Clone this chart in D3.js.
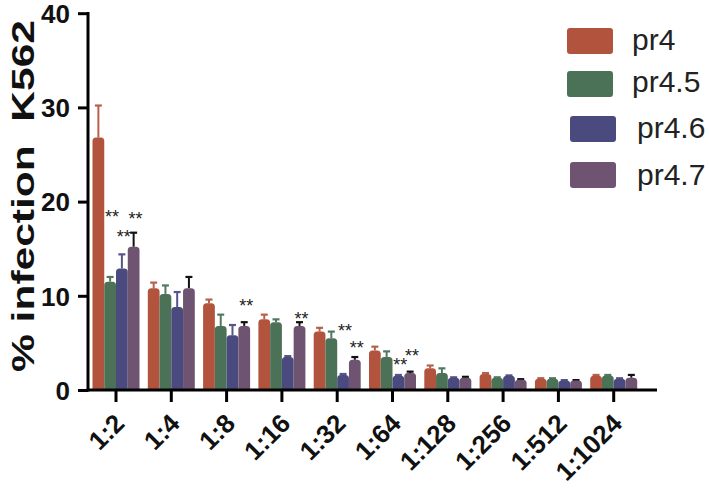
<!DOCTYPE html>
<html><head><meta charset="utf-8">
<script src="https://cdn.jsdelivr.net/npm/d3@7"></script>
<style>body{margin:0;background:#fff}svg{display:block}text{font-family:"Liberation Sans",Arial,sans-serif}</style>
</head><body><svg id="c" width="709" height="491"></svg>
<script>
const categories = ["1:2","1:4","1:8","1:16","1:32","1:64","1:128","1:256","1:512","1:1024"];
const seriesNames = ["pr4","pr4.5","pr4.6","pr4.7"];
const pr4   = [26.8,10.8,9.2,7.5,6.2,4.2,2.3,1.7,1.2,1.5];
const pr4_5 = [11.5,10.2,6.8,7.2,5.5,3.5,1.8,1.3,1.2,1.55];
const pr4_6 = [12.9,8.8,5.8,3.5,1.6,1.5,1.3,1.5,1.0,1.2];
const pr4_7 = [15.2,10.8,6.8,6.8,3.2,1.8,1.3,1.1,1.0,1.3];
const err4   = [30.2,11.4,9.6,8.0,6.6,4.6,2.6,1.8,1.25,1.6];
const err4_5 = [12.0,11.1,8.0,7.5,6.2,4.1,2.3,1.35,1.25,1.6];
const err4_6 = [14.4,10.4,6.9,3.6,1.7,1.6,1.35,1.55,1.05,1.25];
const err4_7 = [16.7,12.0,7.2,7.2,3.5,1.95,1.4,1.15,1.05,1.6];
const yTicks = [0,10,20,30,40];
const sigCat = ["1:2","1:2","1:2","1:8","1:16","1:32","1:32","1:64","1:64"];
const sigSeries = ["pr4.5","pr4.6","pr4.7","pr4.7","pr4.7","pr4.6","pr4.7","pr4.6","pr4.7"];
const sigValue = [18.8,16.7,18.6,9.3,7.9,6.7,4.9,3.1,4.0];

const values = [pr4,pr4_5,pr4_6,pr4_7];
const errs = [err4,err4_5,err4_6,err4_7];
const fills = ["#B2533D","#4B7157","#4A4A7E","#6E5470"];
const errCol = ["#B8604A","#4F7A5E","#55558C","#111111"];

const svg = d3.select("#c");
const x = d3.scaleBand().domain(categories).range([88.35,641.35]).paddingInner(0.15).paddingOuter(0.075);
const xs = d3.scaleBand().domain(seriesNames).range([0,x.bandwidth()]);
const y = d3.scaleLinear().domain([0,40]).range([390,13.2]);

const rows = [];
categories.forEach((c,i)=>seriesNames.forEach((s,j)=>rows.push({c,s,j,v:values[j][i],e:errs[j][i]})));

function topRounded(x0,y0,w,h,r){
  r=Math.min(r,h,w/2);
  return `M${x0},${y0+h}V${y0+r}Q${x0},${y0} ${x0+r},${y0}H${x0+w-r}Q${x0+w},${y0} ${x0+w},${y0+r}V${y0+h}Z`;
}
const g = svg.append("g");
rows.forEach(d=>{
  const cx = x(d.c)+xs(d.s)+xs.bandwidth()/2;
  if (d.e>d.v){
    g.append("line").attr("x1",cx).attr("x2",cx).attr("y1",y(d.v)).attr("y2",y(d.e)).attr("stroke",errCol[d.j]).attr("stroke-width",2);
    g.append("line").attr("x1",cx-3.5).attr("x2",cx+3.5).attr("y1",y(d.e)).attr("y2",y(d.e)).attr("stroke",errCol[d.j]).attr("stroke-width",2.2);
  }
});
g.selectAll("path.bar").data(rows).join("path").attr("class","bar")
  .attr("d",d=>topRounded(x(d.c)+xs(d.s),y(d.v),xs.bandwidth(),y(0)-y(d.v),3.5))
  .attr("fill",d=>fills[d.j]);

const yAxis = d3.axisLeft(y).tickValues(yTicks).tickSize(10).tickSizeOuter(0).tickPadding(8);
const ya = svg.append("g").attr("transform","translate(88,0)").call(yAxis);
ya.select(".domain").attr("stroke","#000").attr("stroke-width",3).attr("d","M0,12V391.5");
ya.selectAll(".tick line").attr("stroke","#000").attr("stroke-width",3);
ya.selectAll(".tick text").attr("font-size",26).attr("font-weight","bold").attr("fill","#111").attr("dy","0.36em");

const xAxis = d3.axisBottom(x).tickSize(12).tickSizeOuter(0);
const xa = svg.append("g").attr("transform","translate(0,390)").call(xAxis);
xa.select(".domain").attr("stroke","#000").attr("stroke-width",3).attr("d","M86.5,0H657");
xa.selectAll(".tick line").attr("stroke","#000").attr("stroke-width",3);
xa.selectAll(".tick text").attr("font-size",26).attr("font-weight","bold").attr("fill","#111")
  .attr("text-anchor","end").attr("dy",null).attr("y",0)
  .attr("transform","translate(10,35) rotate(-45)");

svg.append("text").attr("transform","translate(34,196) rotate(-90)").attr("text-anchor","middle")
  .attr("font-size",32).attr("font-weight","bold").attr("fill","#111").attr("xml:space","preserve")
  .attr("textLength",352).attr("lengthAdjust","spacingAndGlyphs")
  .text("% infection  K562");

svg.selectAll("text.sig").data(sigCat.map((c,i)=>({c,s:sigSeries[i],v:sigValue[i]}))).join("text")
  .attr("class","sig").attr("x",d=>x(d.c)+xs(d.s)+xs.bandwidth()/2+2).attr("y",d=>y(d.v))
  .attr("dy","0.55em").attr("text-anchor","middle").attr("font-size",18).attr("fill","#222").text("**");

const lx=[567,567,570,570], ly=[28,71,116,162], tx=[632,632,637,637], ty=[50,92,138,185];
seriesNames.forEach((s,j)=>{
  svg.append("rect").attr("x",lx[j]).attr("y",ly[j]).attr("width",46).attr("height",26).attr("rx",3).attr("fill",fills[j]);
  svg.append("text").attr("x",tx[j]).attr("y",ty[j]).attr("font-size",30).attr("fill","#222").text(s);
});
</script></body></html>
